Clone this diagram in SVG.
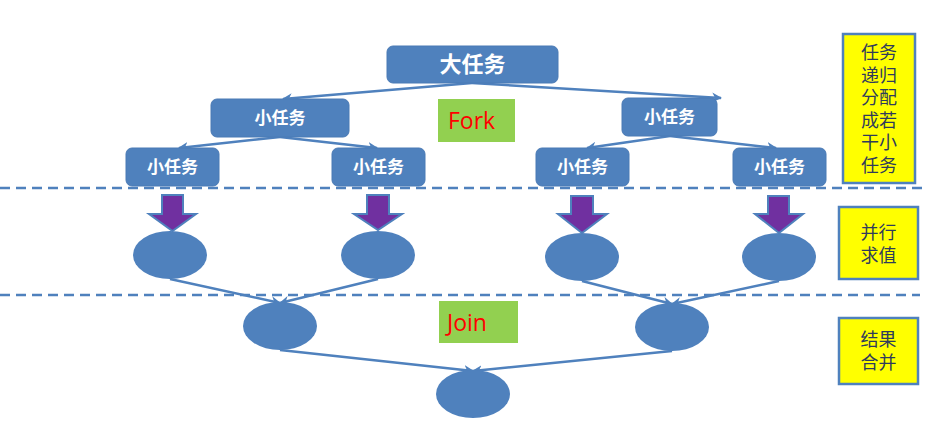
<svg xmlns="http://www.w3.org/2000/svg" width="930" height="443" viewBox="0 0 930 443">
<style>
.task{fill:#4f81bd;stroke:#4a7ab5;stroke-width:1}
.tt{fill:#fff;font-family:"Noto Sans CJK SC","Noto Sans",sans-serif;font-weight:bold;text-anchor:middle}
.conn{stroke:#4f81bd;stroke-width:2.5;fill:none;marker-end:url(#ah)}
.dash{stroke:#4f81bd;stroke-width:2.5;stroke-dasharray:10 6;fill:none}
.node{fill:#4f81bd}
.pa{fill:#7030a0;stroke:#4f81bd;stroke-width:2}
.green{fill:#92d050}
.gt{fill:#ff0000;font-family:"Open Sans","Liberation Sans",sans-serif;font-size:23px}
.yb{fill:#ffff00;stroke:#4f81bd;stroke-width:2.5}
.yt{fill:#2f3b5c;font-family:"Liberation Sans","Noto Sans CJK SC",sans-serif;font-size:18px;text-anchor:middle}
</style>
<defs>
<marker id="ah" viewBox="0 0 10 10" refX="9" refY="5" markerWidth="4" markerHeight="4" orient="auto" markerUnits="strokeWidth">
<path d="M0,0 L10,5 L0,10 L3,5 z" fill="#4f81bd"/>
</marker>
</defs>
<g id="separators">
<line class="dash" x1="0" y1="188" x2="925" y2="188"/>
<line class="dash" x1="0" y1="295" x2="920" y2="295"/>
</g>
<g id="connectors">
<line class="conn" x1="472" y1="83" x2="283" y2="99"/>
<line class="conn" x1="472" y1="83" x2="721" y2="98"/>
<line class="conn" x1="280" y1="137" x2="179" y2="148"/>
<line class="conn" x1="280" y1="137" x2="377" y2="148"/>
<line class="conn" x1="670" y1="136" x2="587" y2="148"/>
<line class="conn" x1="670" y1="136" x2="776" y2="148"/>
<line class="conn" x1="170" y1="279" x2="280" y2="303"/>
<line class="conn" x1="378" y1="279" x2="280" y2="303"/>
<line class="conn" x1="582" y1="281" x2="672" y2="304"/>
<line class="conn" x1="779" y1="281" x2="672" y2="304"/>
<line class="conn" x1="280" y1="350" x2="473" y2="371"/>
<line class="conn" x1="672" y1="351" x2="473" y2="371"/>
</g>
<g id="big-task">
<rect class="task" x="387" y="46" width="171" height="37" rx="6"/>
<text class="tt" x="472.5" y="72" font-size="22">大任务</text>
</g>
<g id="task-l">
<rect class="task" x="211" y="99" width="138" height="38" rx="6"/>
<text class="tt" x="280" y="124" font-size="17">小任务</text>
</g>
<g id="task-r">
<rect class="task" x="622" y="98" width="95" height="38" rx="6"/>
<text class="tt" x="669.5" y="123" font-size="17">小任务</text>
</g>
<g id="task-ll">
<rect class="task" x="126" y="148" width="93" height="38" rx="6"/>
<text class="tt" x="172.5" y="173" font-size="17">小任务</text>
</g>
<g id="task-lr">
<rect class="task" x="332" y="148" width="93" height="38" rx="6"/>
<text class="tt" x="378.5" y="173" font-size="17">小任务</text>
</g>
<g id="task-rl">
<rect class="task" x="536" y="148" width="93" height="38" rx="6"/>
<text class="tt" x="582.5" y="173" font-size="17">小任务</text>
</g>
<g id="task-rr">
<rect class="task" x="733" y="148" width="93" height="38" rx="6"/>
<text class="tt" x="779.5" y="173" font-size="17">小任务</text>
</g>
<g id="fork-label">
<rect class="green" x="438" y="99" width="77" height="43"/>
<text class="gt" x="448" y="129">Fork</text>
</g>
<g id="join-label">
<rect class="green" x="439" y="301" width="79" height="42"/>
<text class="gt" x="447" y="331">Join</text>
</g>
<g id="purple-arrows">
<path class="pa" d="M162,195 H183 V214 H196 L172.5,231 L149,214 H162 Z"/>
<path class="pa" d="M367,195 H389 V214 H402 L378,230 L354,214 H367 Z"/>
<path class="pa" d="M571,196 H593 V214 H607 L582,233 L558,214 H571 Z"/>
<path class="pa" d="M768,196 H789 V214 H803 L779,233 L755,214 H768 Z"/>
</g>
<g id="eval-1"><ellipse class="node" cx="170" cy="255" rx="37" ry="24"/></g>
<g id="eval-2"><ellipse class="node" cx="378" cy="255" rx="37" ry="24"/></g>
<g id="eval-3"><ellipse class="node" cx="582" cy="257" rx="37" ry="24"/></g>
<g id="eval-4"><ellipse class="node" cx="779" cy="257" rx="37" ry="24"/></g>
<g id="join-l"><ellipse class="node" cx="280" cy="326" rx="37" ry="24"/></g>
<g id="join-r"><ellipse class="node" cx="672" cy="327" rx="37" ry="24"/></g>
<g id="join-root"><ellipse class="node" cx="473" cy="394" rx="37" ry="24"/></g>
<g id="note-fork">
<rect class="yb" x="843" y="34" width="72" height="149"/>
<text class="yt"><tspan x="879" y="59">任务</tspan><tspan x="879" y="81.5">递归</tspan><tspan x="879" y="104">分配</tspan><tspan x="879" y="126.5">成若</tspan><tspan x="879" y="149">干小</tspan><tspan x="879" y="171.5">任务</tspan></text>
</g>
<g id="note-eval">
<rect class="yb" x="839" y="207" width="79" height="72"/>
<text class="yt"><tspan x="878.5" y="239">并行</tspan><tspan x="878.5" y="261.5">求值</tspan></text>
</g>
<g id="note-join">
<rect class="yb" x="839" y="318" width="79" height="66"/>
<text class="yt"><tspan x="878.5" y="346">结果</tspan><tspan x="878.5" y="368.5">合并</tspan></text>
</g>
</svg>
